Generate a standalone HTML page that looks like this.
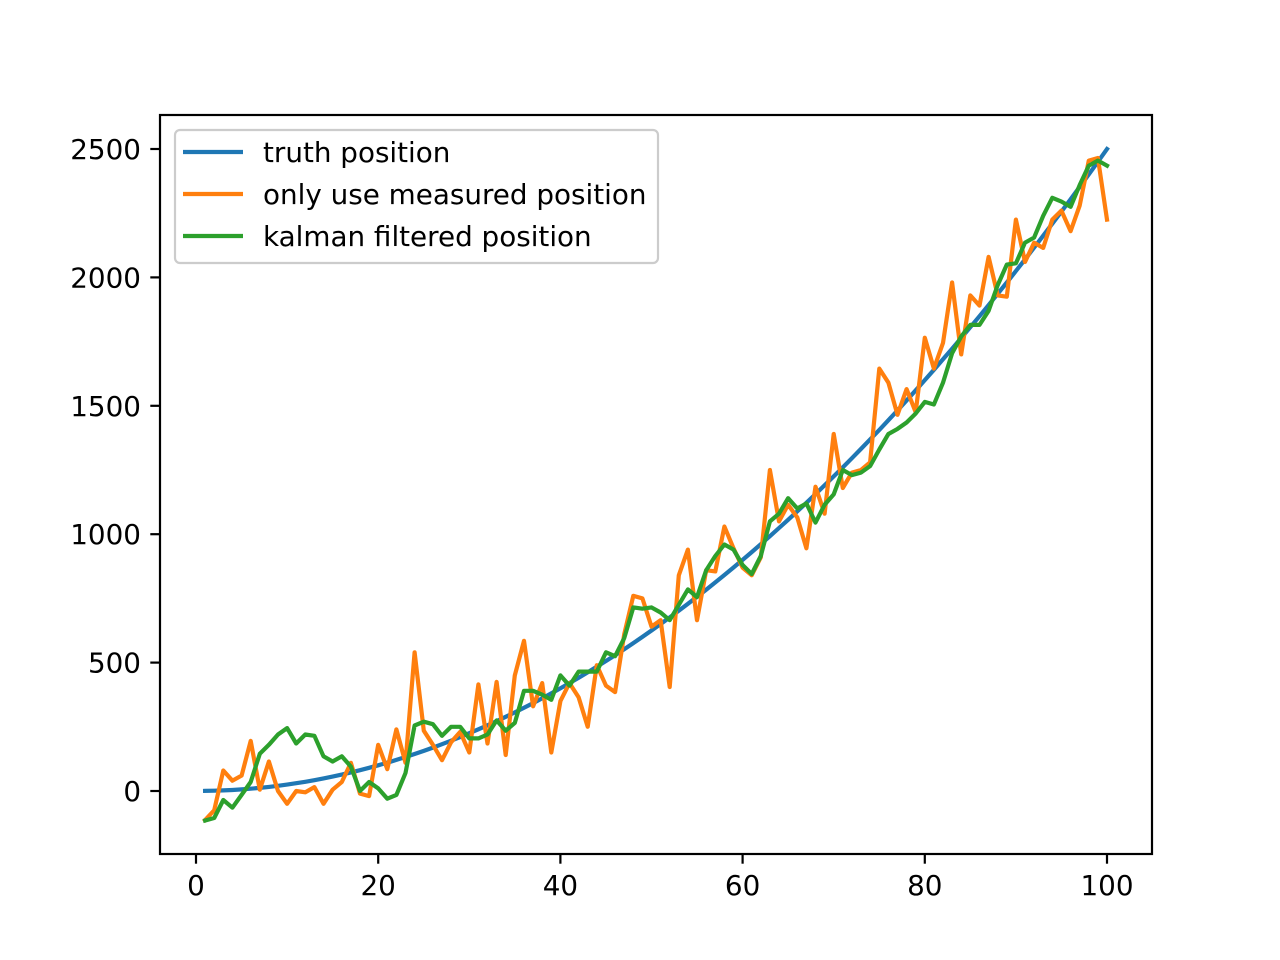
<!DOCTYPE html>
<html><head><meta charset="utf-8"><style>
html,body{margin:0;padding:0;background:#fff;}
svg{display:block;font-family:"DejaVu Sans","Liberation Sans",sans-serif;}
</style></head><body>
<svg id="chart" width="1280" height="960" viewBox="0 0 1280 960">
<rect x="0" y="0" width="1280" height="960" fill="#fff"/>
<g id="plot"></g>
</svg>
<script>
const xs = Array.from({length:100},(_,i)=>i+1);
const truthPos = xs.map(x=>x*x/4);
const measuredPos = [-113,-75,80,40,60,195,5,115,0,-50,0,-5,15,-50,5,35,110,-10,-20,180,85,240,110,540,235,180,120,190,230,150,415,185,425,140,450,585,330,420,150,350,420,365,250,490,410,385,610,760,750,640,665,405,840,940,665,860,855,1030,945,870,840,910,1250,1050,1115,1065,945,1185,1080,1390,1180,1240,1250,1280,1645,1590,1465,1565,1475,1765,1645,1745,1980,1700,1930,1890,2080,1930,1925,2225,2060,2135,2115,2225,2260,2180,2280,2455,2465,2225];
const kalmanPos = [-115,-105,-35,-65,-15,35,145,180,220,245,185,220,215,135,115,135,95,0,35,10,-30,-15,70,255,270,260,215,250,250,205,205,220,275,235,265,390,390,375,355,450,410,465,465,465,540,525,595,715,710,715,695,665,725,785,755,860,915,960,940,880,845,915,1050,1080,1140,1100,1120,1045,1115,1155,1250,1230,1240,1265,1330,1390,1410,1435,1470,1515,1505,1590,1705,1770,1815,1815,1870,1970,2050,2055,2135,2155,2240,2310,2295,2275,2360,2435,2455,2435];
const xTicks = [0,20,40,60,80,100];
const yTicks = [0,500,1000,1500,2000,2500];
const legendLabels = ["truth position","only use measured position","kalman filtered position"];

const NS="http://www.w3.org/2000/svg";
const L=160,R=1152,T=115,B=854;
const sx = v => 196 + v*9.11;
const sy = v => 791 - v*0.2568;
const g=document.getElementById('plot');
function mk(tag,attrs,parent){const e=document.createElementNS(NS,tag);for(const k in attrs)e.setAttribute(k,attrs[k]);(parent||g).appendChild(e);return e;}

const series=[[truthPos,'#1f77b4','truth-line'],[measuredPos,'#ff7f0e','measured-line'],[kalmanPos,'#2ca02c','kalman-line']];
series.forEach(([data,col,name])=>{
  const p=mk('polyline',{points:data.map((v,i)=>sx(xs[i]).toFixed(1)+','+sy(v).toFixed(1)).join(' '),fill:'none',stroke:col,'stroke-width':4.2,'stroke-linejoin':'round','stroke-linecap':'square'});
  
  
});

const frame=mk('rect',{x:L,y:T,width:R-L,height:B-T,fill:'none',stroke:'#000','stroke-width':2.2});



xTicks.forEach(t=>{
  const x=sx(t);
  const tk=mk('line',{x1:x,x2:x,y1:B,y2:B+9.7,stroke:'#000','stroke-width':2.2});
  
  
  const tx=mk('text',{x:x,y:895,'text-anchor':'middle','font-size':27.8,fill:'#000'});
  tx.textContent=t;
  
  
});
yTicks.forEach(t=>{
  const y=sy(t);
  const tk=mk('line',{x1:L-9.7,x2:L,y1:y,y2:y,stroke:'#000','stroke-width':2.2});
  
  
  const tx=mk('text',{x:141,y:y+10,'text-anchor':'end','font-size':27.8,fill:'#000'});
  tx.textContent=t;
  
  
});

const lg=mk('g',{});


const lbox=mk('rect',{x:175,y:130,width:483,height:133,rx:5,fill:'#fff','fill-opacity':0.8,stroke:'#ccc','stroke-width':2.2},lg);


legendLabels.forEach((lab,i)=>{
  const y=152+i*42;
  const ln=mk('line',{x1:183,x2:243,y1:y,y2:y,stroke:series[i][1],'stroke-width':4.2},lg);
  
  
  const tx=mk('text',{x:263,y:y+10,'font-size':27.8,fill:'#000'},lg);
  tx.textContent=lab;
  
  
});
</script>
</body></html>
